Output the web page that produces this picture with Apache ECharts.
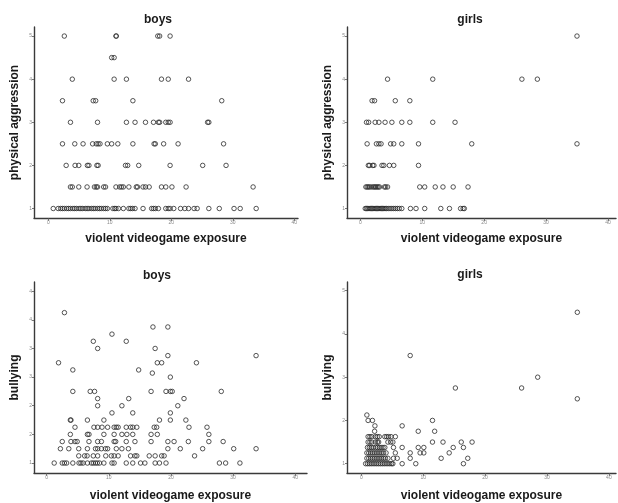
<!DOCTYPE html>
<html><head><meta charset="utf-8">
<script src="https://cdn.jsdelivr.net/npm/echarts@6/dist/echarts.min.js"></script>
<style>html,body{margin:0;padding:0;background:#fff}#c{width:618px;height:503px}</style>
</head><body><div id="c"></div>
<script>
// ---- data (rows: [y value, [x values]]) ----
const panelTitles = ['boys', 'girls', 'boys', 'girls'];
const xAxisName = 'violent videogame exposure';
const yAxisNames = ['physical aggression', 'physical aggression', 'bullying', 'bullying'];
const xTicks = [0, 10, 20, 30, 40];
const yTicksAggression = [1, 2, 3, 4, 5];
const yTicksBullyBoys = [1, 1.5, 2, 2.5, 3, 3.5, 4];
const yTicksBullyGirls = [1, 2, 3, 4, 5];

const boysAggression = [
  [5, [2.6, 11.0, 11.05, 17.8, 18.1, 19.8]],
  [4.5, [10.3, 10.7]],
  [4, [3.9, 10.7, 12.7, 18.4, 19.5, 22.8]],
  [3.5, [2.3, 7.3, 7.7, 13.75, 28.2]],
  [3, [3.6, 8.0, 12.7, 14.1, 15.8, 17.1, 17.9, 18.1, 19.1, 19.5, 19.8, 25.9, 26.1]],
  [2.5, [2.3, 4.3, 5.65, 7.2, 7.8, 8.1, 8.4, 9.6, 10.3, 11.3, 13.75, 17.2, 17.4, 18.75, 21.1, 28.5]],
  [2, [2.9, 4.35, 4.95, 6.35, 6.6, 7.9, 8.1, 12.55, 12.9, 14.7, 19.8, 25.1, 28.9]],
  [1.5, [3.6, 3.9, 4.95, 6.3, 7.5, 7.8, 8.0, 9.0, 9.3, 11.0, 11.6, 11.9, 12.2, 13.1, 14.3, 14.5, 15.4, 15.8, 16.4, 18.4, 19.1, 20.1, 22.4, 33.3]],
  [1, [0.8, 1.6, 2.0, 2.3, 2.6, 3.0, 3.3, 3.6, 4.0, 4.3, 4.6, 5.0, 5.3, 5.6, 6.0, 6.3, 6.6, 7.0, 7.3, 7.6, 8.0, 8.3, 8.6, 9.0, 9.3, 9.6, 10.5, 10.8, 11.0, 11.4, 12.2, 13.1, 13.4, 13.7, 14.1, 15.4, 16.8, 17.1, 17.4, 17.9, 19.1, 19.5, 19.8, 20.4, 21.5, 22.2, 22.8, 23.7, 24.2, 26.1, 27.8, 30.2, 31.2, 33.8]]
];

const girlsAggression = [
  [5, [35.0]],
  [4, [4.4, 11.7, 26.1, 28.6]],
  [3.5, [1.9, 2.3, 5.65, 8.0]],
  [3, [1.0, 1.35, 2.4, 3.0, 4.0, 5.1, 6.7, 8.0, 11.7, 15.3]],
  [2.5, [1.1, 2.6, 3.0, 3.35, 4.9, 5.4, 6.7, 9.4, 18.0, 35.0]],
  [2, [1.3, 1.5, 2.0, 2.2, 3.5, 3.8, 4.7, 5.4, 9.4]],
  [1.5, [0.9, 1.1, 1.3, 1.5, 1.8, 2.1, 2.3, 2.5, 2.7, 2.9, 3.1, 3.9, 4.1, 4.4, 9.6, 10.4, 12.1, 13.35, 15.0, 17.4]],
  [1, [0.8, 1.0, 1.2, 1.4, 1.6, 1.8, 2.0, 2.2, 2.4, 2.6, 2.8, 3.0, 3.2, 3.4, 3.6, 3.8, 4.0, 4.2, 4.5, 4.8, 5.1, 5.4, 5.7, 6.0, 6.3, 6.7, 8.1, 9.0, 10.4, 13.0, 14.4, 16.2, 16.6, 16.8]]
];

const boysBullying = [
  [3.625, [2.85]],
  [3.375, [17.1, 19.5]],
  [3.25, [10.5]],
  [3.125, [7.5, 12.8]],
  [3.0, [8.2, 17.45]],
  [2.875, [19.5, 33.7]],
  [2.75, [1.9, 17.8, 18.5, 24.1]],
  [2.625, [4.2, 14.8]],
  [2.57, [17.0]],
  [2.5, [19.9]],
  [2.25, [4.2, 7.0, 7.7, 16.8, 19.2, 19.9, 20.2, 28.1]],
  [2.125, [8.2, 13.2, 22.1]],
  [2.0, [8.2, 12.1, 21.1]],
  [1.875, [10.5, 13.85, 19.9]],
  [1.75, [3.8, 3.9, 6.55, 9.2, 18.15, 19.9, 22.4]],
  [1.625, [4.55, 7.6, 8.2, 8.9, 9.8, 10.85, 11.2, 11.5, 12.8, 13.5, 13.85, 14.5, 17.3, 17.7, 22.9, 25.8]],
  [1.5, [3.8, 6.55, 6.8, 9.2, 10.85, 12.1, 12.9, 13.85, 16.8, 17.8, 26.1]],
  [1.375, [2.5, 3.9, 4.55, 4.9, 6.8, 8.2, 8.8, 10.85, 11.1, 12.8, 14.2, 16.8, 19.5, 20.5, 22.8, 26.1, 28.4]],
  [1.25, [2.2, 3.55, 5.15, 6.55, 7.85, 8.2, 8.8, 9.45, 9.8, 11.2, 12.1, 13.15, 19.5, 21.5, 25.1, 30.1, 33.7]],
  [1.125, [5.15, 6.1, 6.5, 7.5, 8.2, 9.5, 10.4, 10.85, 11.5, 13.5, 14.2, 14.5, 16.5, 17.45, 18.5, 18.9, 23.8]],
  [1.0, [1.2, 2.5, 2.85, 3.2, 4.2, 5.2, 5.5, 5.85, 6.55, 7.2, 7.5, 7.85, 8.15, 8.5, 9.2, 10.5, 10.85, 12.8, 13.85, 15.1, 15.8, 17.45, 18.15, 19.2, 27.8, 28.8, 31.1]]
];

const girlsBullying = [
  [4.5, [34.9]],
  [3.5, [7.9]],
  [3.0, [28.5]],
  [2.75, [15.2, 25.9]],
  [2.5, [34.9]],
  [2.125, [0.9]],
  [2.0, [1.1, 1.8, 11.5]],
  [1.875, [2.2, 6.6]],
  [1.75, [2.15, 9.2, 11.85]],
  [1.625, [1.1, 1.4, 1.7, 2.3, 2.6, 2.9, 3.8, 4.1, 4.4, 4.8, 5.5]],
  [1.5, [1.1, 1.4, 1.7, 2.3, 2.6, 2.8, 4.3, 4.75, 5.1, 11.5, 13.2, 16.15, 17.9]],
  [1.375, [1.0, 1.3, 1.6, 1.9, 2.3, 2.6, 2.9, 3.2, 3.5, 3.8, 5.2, 6.6, 9.2, 10.1, 14.85, 16.5]],
  [1.25, [0.9, 1.2, 1.5, 1.8, 2.1, 2.4, 2.7, 3.0, 3.3, 3.6, 4.0, 5.5, 7.9, 9.5, 10.1, 14.2]],
  [1.125, [0.9, 1.2, 1.5, 1.8, 2.1, 2.4, 2.7, 3.0, 3.3, 3.6, 3.9, 4.3, 5.2, 5.8, 7.9, 12.9, 17.2]],
  [1.0, [0.7, 1.0, 1.3, 1.6, 1.9, 2.2, 2.5, 2.8, 3.1, 3.4, 3.7, 4.0, 4.3, 4.6, 4.9, 5.1, 6.6, 8.8, 16.5]]
];

// ---- build ----
function toPairs(rows) {
  const out = [];
  rows.forEach(r => r[1].forEach(x => out.push([x, r[0]])));
  return out;
}
const panelData = [boysAggression, girlsAggression, boysBullying, girlsBullying].map(toPairs);
const yTickSets = [yTicksAggression, yTicksAggression, yTicksBullyBoys, yTicksBullyGirls];

const grids = [
  {left: 34, top: 27, width: 264, height: 191},
  {left: 347, top: 27, width: 269, height: 191},
  {left: 34, top: 282, width: 273, height: 192},
  {left: 347, top: 282, width: 269, height: 191}
];
const xRanges = [[-2.33, 40.6], [-2.15, 41.3], [-2.05, 41.9], [-2.31, 41.15]];
const yRanges = [[0.78, 5.21], [0.78, 5.21], [0.826, 4.16], [0.785, 5.2]];
const titlePos = [[158, 14], [470, 14], [157, 270], [470, 269]];
const xNameGap = [15, 15, 17, 17];

const FONT = 'Liberation Sans, Arial, sans-serif';
const axisLineStyle = {color: '#3a3a3a', width: 1.4};

const option = {
  backgroundColor: '#fff',
  animation: false,
  title: panelTitles.map((t, i) => ({
    text: t, left: titlePos[i][0], top: titlePos[i][1], textAlign: 'center', padding: 0,
    textStyle: {fontFamily: FONT, fontSize: 12, fontWeight: 'bold', color: '#1a1a1a'}
  })),
  grid: grids,
  xAxis: grids.map((g, i) => ({
    type: 'value', gridIndex: i, min: xRanges[i][0], max: xRanges[i][1],
    name: xAxisName, nameLocation: 'middle', nameGap: xNameGap[i],
    nameTextStyle: {fontFamily: FONT, fontSize: 12, fontWeight: 'bold', color: '#1a1a1a'},
    axisLine: {show: true, onZero: false, lineStyle: axisLineStyle},
    axisTick: {show: true, length: 3, customValues: xTicks, lineStyle: {color: '#555', width: 0.8}},
    axisLabel: {show: true, customValues: xTicks, fontSize: 5, color: '#888', margin: 2, fontFamily: FONT},
    splitLine: {show: false}
  })),
  yAxis: grids.map((g, i) => ({
    type: 'value', gridIndex: i, min: yRanges[i][0], max: yRanges[i][1],
    name: yAxisNames[i], nameLocation: 'middle', nameGap: 13, nameRotate: 90,
    nameTextStyle: {fontFamily: FONT, fontSize: 12, fontWeight: 'bold', color: '#1a1a1a'},
    axisLine: {show: true, onZero: false, lineStyle: axisLineStyle},
    axisTick: {show: true, length: 2, customValues: yTickSets[i], lineStyle: {color: '#555', width: 0.8}},
    axisLabel: {show: true, customValues: yTickSets[i], fontSize: 5, color: '#888', margin: 2, fontFamily: FONT,
      formatter: v => String(Math.round(v))},
    splitLine: {show: false}
  })),
  series: panelData.map((d, i) => ({
    type: 'scatter', xAxisIndex: i, yAxisIndex: i, data: d,
    symbol: 'circle', symbolSize: 4.5,
    itemStyle: {color: 'rgba(0,0,0,0)', borderColor: '#2a2a2a', borderWidth: 1},
    emphasis: {disabled: true}
  }))
};
const chart = echarts.init(document.getElementById('c'), null, {renderer: 'canvas'});
chart.setOption(option);
</script></body></html>
